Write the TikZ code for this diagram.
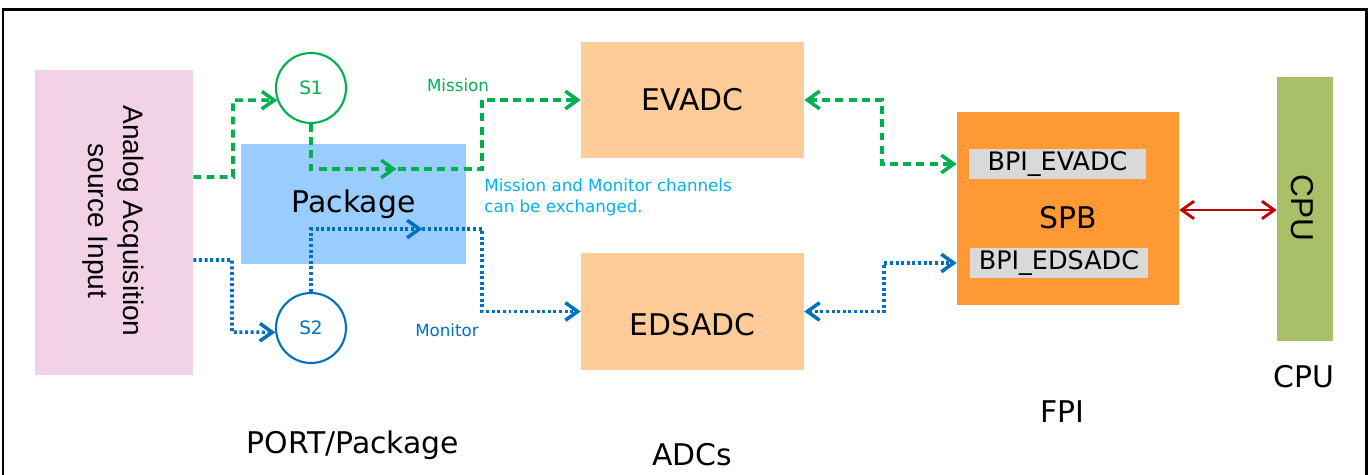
\documentclass[tikz,border=0pt]{standalone}
\usepackage{fontspec}
\setmainfont{DejaVu Sans}
\newfontfamily\arialfont{Liberation Sans}
\usetikzlibrary{arrows.meta, positioning, calc, decorations.markings}
\definecolor{cPink}{RGB}{242,210,230}
\definecolor{cPkg}{RGB}{153,204,255}
\definecolor{cPeach}{RGB}{255,204,153}
\definecolor{cOrange}{RGB}{255,153,51}
\definecolor{cGray}{RGB}{217,217,217}
\definecolor{cOlive}{RGB}{170,192,104}
\definecolor{cGreen}{RGB}{0,176,80}
\definecolor{cBlue}{RGB}{0,112,192}
\definecolor{cCyan}{RGB}{0,176,240}
\definecolor{cRed}{RGB}{192,0,0}

\begin{document}
\begin{tikzpicture}[x=0.02cm, y=-0.02cm,
	blk/.style={inner sep=0pt, font=\fontsize{17}{20}\selectfont},
	bpi/.style={fill=cGray, inner sep=0pt, minimum height=0.6cm, font=\fontsize{14.5}{17}\selectfont},
	sw/.style={circle, draw=#1, text=#1, fill=white, line width=1.2pt, minimum size=1.4cm, inner sep=0pt, font=\fontsize{10.5}{12}\selectfont},
	lbl/.style={inner sep=0pt, font=\fontsize{9.5}{12}\selectfont},
	mis/.style={cGreen, line width=2pt, dash pattern=on 4.5pt off 3pt, >={Straight Barb[length=7pt,width=10pt]}},
	mon/.style={cBlue, line width=2pt, dash pattern=on 1.7pt off 1.5pt, >={Straight Barb[length=7pt,width=10pt]}},
	midtip/.style={postaction={decorate}, decoration={markings, mark=at position #1 with {\arrow{Straight Barb[length=7pt,width=10pt]}}}}]
	\clip (0,0) rectangle (1372,475);
	\draw[line width=1.7pt] (3,10) rectangle (1366,500);
	% blocks
	\node[blk, fill=cPink, minimum width=3.16cm, minimum height=6.1cm] (analog) at (114,222.5) {};
	\node[rotate=-90, align=center, inner sep=0pt, font=\arialfont\fontsize{16}{20}\selectfont] (analogtxt) at (113,221) {Analog Acquisition\\source Input};
	\node[blk, fill=cPkg, minimum width=4.5cm, minimum height=2.4cm] (pkg) at (353.5,204) {Package};
	\node[sw=cGreen] (s1) at (311,88) {S1};
	\node[sw=cBlue] (s2) at (311,328) {S2};
	\node[blk, fill=cPeach, minimum width=4.46cm, minimum height=2.32cm] (evadc) at (692.5,100) {EVADC};
	\node[blk, fill=cPeach, minimum width=4.46cm, minimum height=2.34cm] (edsadc) at (692.5,311.5) {};
	\node[blk] (edsadctxt) at (692.5,325) {EDSADC};
	\node[blk, fill=cOrange, minimum width=4.44cm, minimum height=3.86cm] (spb) at (1068,208.5) {};
	\node[blk] (spbtxt) at (1068,218) {SPB};
	\node[bpi, minimum width=3.54cm] (bpiev) at (1057.5,164) {BPI\_EVADC};
	\node[bpi, minimum width=3.56cm] (bpieds) at (1059,263) {BPI\_EDSADC};
	\node[blk, fill=cOlive, minimum width=1.12cm, minimum height=5.28cm] (cpu) at (1305,209) {};
	\node[blk, rotate=-90, font=\arialfont\fontsize{18}{20}\selectfont] (cputxt) at (1302,208) {CPU};
	% mission path
	\draw[mis, ->] (analog.east |- 0,177) -| (233,100) -- (s1.200);
	\draw[mis, ->, midtip=0.34] (s1.south) |- (482,169) |- (evadc.west);
	% monitor path
	\draw[mon, ->] (analog.east |- 0,260) -| (232,332) -- (s2.187);
	\draw[mon, ->, midtip=0.42] (s2.north) |- (482,229) |- (edsadc.west);
	% bus links
	\draw[mis, <->] (evadc.east) -| (882,164) -- (spb.west |- bpiev.west);
	\draw[mon, <->] (edsadc.east) -| (884,263) -- (spb.west |- bpieds.west);
	\draw[cRed, line width=1.6pt, <->, >={Straight Barb[length=7pt,width=10pt]}] (spb.east |- 0,210) -- (cpu.west |- 0,210);
	% labels
	\node[lbl, cGreen] (mission) at (458,85) {Mission};
	\node[lbl, cBlue] (monitor) at (447,330) {Monitor};
	\node[lbl, cCyan, align=left, anchor=north west] (note) at (484,178) {Mission and Monitor channels\\can be exchanged.};
	\node[blk] (portlbl) at (353,445) {PORT/Package};
	\node[blk] (adclbl) at (692,455) {ADCs};
	\node[blk] (fpilbl) at (1062,412) {FPI};
	\node[blk] (cpulbl) at (1304,377) {CPU};
\end{tikzpicture}
\end{document}
